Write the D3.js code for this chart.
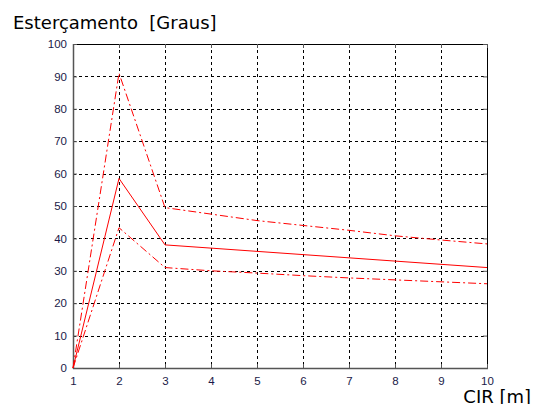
<!DOCTYPE html>
<html>
<head>
<meta charset="utf-8">
<script src="https://cdn.jsdelivr.net/npm/d3@7"></script>
<style>
body { margin: 0; background: #fff; }
</style>
</head>
<body>
<div id="chart"></div>
<script>
// valores
var cir = [1, 2, 3, 4, 5, 6, 7, 8, 9, 10];
var angMedio = [0, 58.5, 38, 37, 36, 35, 34, 33, 32, 31];
var angMax = [0, 91, 49.5, 47.5, 45.5, 44, 42.5, 40.8, 39.5, 38.3];
var angMin = [0, 43.3, 31, 30, 29.3, 28.5, 27.8, 27.2, 26.6, 26];
var xTicks = [1, 2, 3, 4, 5, 6, 7, 8, 9, 10];
var yTicks = [0, 10, 20, 30, 40, 50, 60, 70, 80, 90, 100];

var margin = { top: 44, right: 48, bottom: 36, left: 73 },
    width = 535 - margin.left - margin.right,
    height = 404 - margin.top - margin.bottom;

var svg = d3.select("#chart").append("svg")
    .attr("width", 535).attr("height", 404);

var g = svg.append("g").attr("transform", "translate(" + margin.left + "," + margin.top + ")");

var xScale = d3.scaleLinear().domain([1, 10]).range([0, 414]);
var yScale = d3.scaleLinear().domain([0, 100]).range([324, 0]);

// grade tracejada
g.selectAll(".gx").data(xTicks.slice(1, -1)).enter().append("line")
    .attr("x1", d => Math.round(xScale(d)) + 0.5).attr("x2", d => Math.round(xScale(d)) + 0.5)
    .attr("y1", 0).attr("y2", 324)
    .attr("stroke", "#000").attr("stroke-width", 1).attr("stroke-dasharray", "3,3");
g.selectAll(".gy").data(yTicks.slice(1, -1)).enter().append("line")
    .attr("y1", d => Math.round(yScale(d)) + 0.5).attr("y2", d => Math.round(yScale(d)) + 0.5)
    .attr("x1", 0).attr("x2", 414)
    .attr("stroke", "#000").attr("stroke-width", 1).attr("stroke-dasharray", "3,3");

// caixa
g.append("rect").attr("x", 0.5).attr("y", 0.5).attr("width", 414).attr("height", 324)
    .attr("fill", "none").attr("stroke", "#000").attr("stroke-width", 1);
g.append("line").attr("x1", 0.5).attr("x2", 0.5).attr("y1", 0).attr("y2", 325)
    .attr("stroke", "#555").attr("stroke-width", 1.5);
g.append("line").attr("x1", 0).attr("x2", 415).attr("y1", 324.5).attr("y2", 324.5)
    .attr("stroke", "#555").attr("stroke-width", 1.5);

// eixos
var xAxis = g.append("g").attr("transform", "translate(0,324)")
    .call(d3.axisBottom(xScale).tickValues(xTicks).tickSize(-4).tickPadding(9).tickFormat(d3.format("d")));
var yAxis = g.append("g")
    .call(d3.axisLeft(yScale).tickValues(yTicks).tickSize(-4).tickPadding(6).tickFormat(d3.format("d")));
[xAxis, yAxis].forEach(function (ax) {
    ax.select(".domain").remove();
    ax.selectAll(".tick line").attr("stroke", "#555");
    ax.selectAll(".tick text").attr("fill", "#1a1a48")
        .style("font-family", "Liberation Sans, Arial, sans-serif").style("font-size", "11.5px");
});
// marcas no lado direito e no topo
g.selectAll(".tr").data(yTicks).enter().append("line")
    .attr("x1", 410).attr("x2", 414).attr("y1", d => yScale(d) + 0.5).attr("y2", d => yScale(d) + 0.5)
    .attr("stroke", "#555");
g.selectAll(".tt").data(xTicks).enter().append("line")
    .attr("y1", 0).attr("y2", 4).attr("x1", d => xScale(d) + 0.5).attr("x2", d => xScale(d) + 0.5)
    .attr("stroke", "#555");

// curvas
var line = d3.line()
    .x(function (d, i) { return xScale(cir[i]); })
    .y(function (d) { return yScale(d); });

g.append("path").datum(angMax).attr("d", line)
    .attr("fill", "none").attr("stroke", "#ff0000").attr("stroke-width", 1)
    .attr("stroke-dasharray", "8,3,2,3");
g.append("path").datum(angMin).attr("d", line)
    .attr("fill", "none").attr("stroke", "#ff0000").attr("stroke-width", 1)
    .attr("stroke-dasharray", "8,3,2,3");
g.append("path").datum(angMedio).attr("d", line)
    .attr("fill", "none").attr("stroke", "#ff0000").attr("stroke-width", 1);

// títulos
svg.append("text").attr("x", 13).attr("y", 29)
    .style("font-family", "DejaVu Sans, Verdana, sans-serif").style("font-size", "18px")
    .attr("fill", "#000").attr("xml:space", "preserve")
    .text("Esterçamento  [Graus]");
svg.append("text").attr("x", 531).attr("y", 403).attr("text-anchor", "end")
    .style("font-family", "DejaVu Sans, Verdana, sans-serif").style("font-size", "18px")
    .attr("fill", "#000")
    .text("CIR [m]");
</script>
</body>
</html>
